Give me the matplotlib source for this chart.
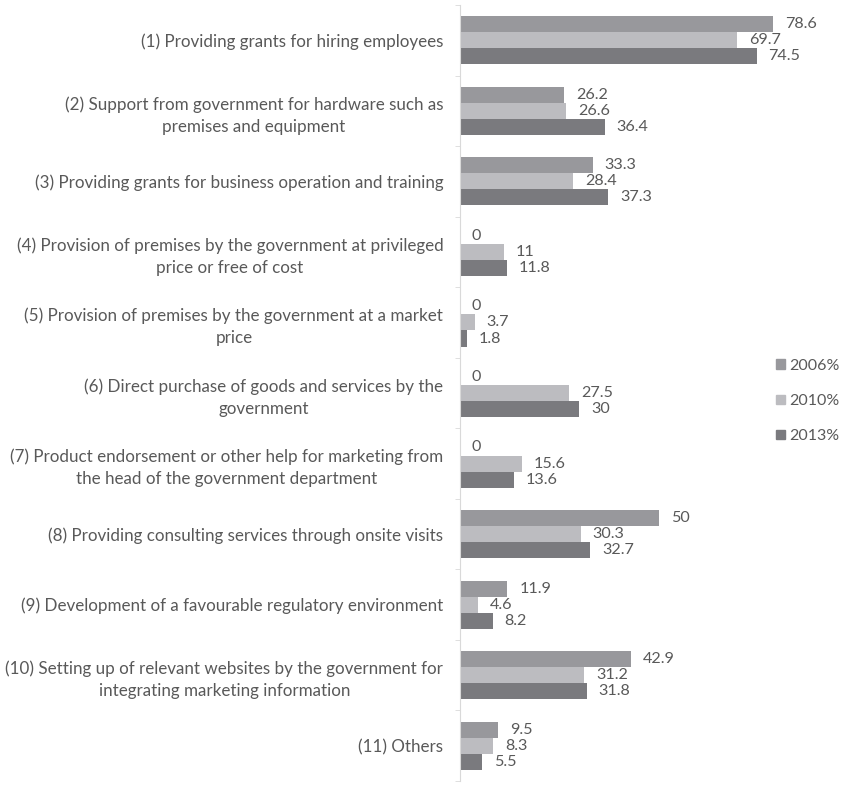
import numpy as np
import matplotlib.pyplot as plt
from matplotlib.patches import Patch

categories = [
    "(1) Providing grants for hiring employees",
    "(2) Support from government for hardware such as\npremises and equipment",
    "(3) Providing grants for business operation and training",
    "(4) Provision of premises by the government at privileged\nprice or free of cost",
    "(5) Provision of premises by the government at a market\nprice",
    "(6) Direct purchase of goods and services by the\ngovernment",
    "(7) Product endorsement or other help for marketing from\nthe head of the government department",
    "(8) Providing consulting services through onsite visits",
    "(9) Development of a favourable regulatory environment",
    "(10) Setting up of relevant websites by the government for\nintegrating marketing information",
    "(11) Others",
]
v2006 = [78.6, 26.2, 33.3, 0, 0, 0, 0, 50, 11.9, 42.9, 9.5]
v2010 = [69.7, 26.6, 28.4, 11, 3.7, 27.5, 15.6, 30.3, 4.6, 31.2, 8.3]
v2013 = [74.5, 36.4, 37.3, 11.8, 1.8, 30, 13.6, 32.7, 8.2, 31.8, 5.5]
series = ["2006%", "2010%", "2013%"]

colors = ["#98989c", "#bcbcc0", "#7a7a7e"]
txt = "#595959"
plt.rcParams['font.family'] = ['Lato', 'DejaVu Sans']

W, H = 841, 785
fig = plt.figure(figsize=(W / 100, H / 100), dpi=100)
x0, x1, y0, y1 = 460, 840, 5, 781
ax = fig.add_axes([x0 / W, 1 - y1 / H, (x1 - x0) / W, (y1 - y0) / H])

n = len(categories)
bh = 0.228
y = np.arange(n)
for k, vals in enumerate([v2006, v2010, v2013]):
    pos = y + (k - 1) * bh
    ax.barh(pos, vals, height=bh, color=colors[k], label=series[k])
    for p, v in zip(pos, vals):
        ax.text(v + 3.0, p, f"{v:g}", va="center", ha="left",
                fontsize=11.6, color=txt)

ax.set_ylim(n - 0.5, -0.5)
ax.set_xlim(0, (x1 - x0) / 3.98)
ax.set_xticks([])
ax.set_yticks(np.arange(n + 1) - 0.5, minor=True)
ax.set_yticks(y)
ax.set_yticklabels(categories, fontsize=12.25, color=txt, linespacing=1.47)
# right edge shared, wrapped lines centred under each other
for lbl in ax.get_yticklabels():
    lbl.set_horizontalalignment("right")
    lbl.set_multialignment("center")
ax.tick_params(axis="y", which="major", length=0, pad=12)
ax.tick_params(axis="y", which="minor", length=3.6, color="#d9d9d9")
for s in ["top", "right", "bottom"]:
    ax.spines[s].set_visible(False)
ax.spines["left"].set_color("#d9d9d9")

handles = [Patch(color=c) for c in colors]
fig.legend(handles, series, loc="center left",
           bbox_to_anchor=(776 / W, 1 - 401 / H), frameon=False,
           borderpad=0, borderaxespad=0,
           fontsize=11.5, labelcolor=txt, handlelength=0.55, handleheight=0.55,
           handletextpad=0.3, labelspacing=1.32)

fig.savefig("out.png", dpi=100)
